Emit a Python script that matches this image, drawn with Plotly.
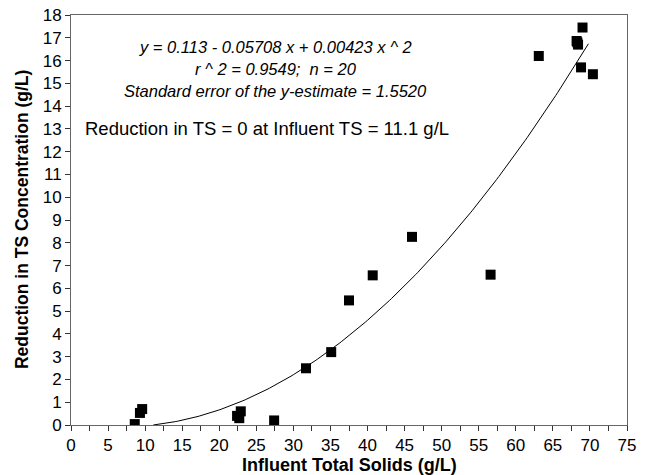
import numpy as np
import plotly.graph_objects as go

# Observed data
influent_ts = [8.6, 9.3, 9.6, 22.4, 22.7, 22.9, 27.4, 31.7, 35.1, 37.5,
               40.7, 46.0, 56.6, 63.1, 68.2, 68.3, 68.4, 68.8, 69.0, 70.4]
reduction_ts = [0.04, 0.53, 0.7, 0.4, 0.3, 0.6, 0.2, 2.49, 3.2, 5.47,
                6.57, 8.26, 6.6, 16.2, 16.86, 16.8, 16.7, 15.7, 17.45, 15.4]

# Fitted quadratic shown on the chart
coef_b0, coef_b1, coef_b2 = 0.113, -0.05708, 0.00423
fit_x_start, fit_x_end = 11.1, 69.8

fit_x = np.linspace(fit_x_start, fit_x_end, 200)
fit_y = coef_b0 + coef_b1 * fit_x + coef_b2 * fit_x ** 2

x_ticks = list(range(0, 80, 5))
y_ticks = list(range(0, 19, 1))

FONT = "Liberation Sans, Arial, sans-serif"

fig = go.Figure()
fig.add_trace(go.Scatter(x=fit_x, y=fit_y, mode="lines",
                         line=dict(color="black", width=1), hoverinfo="skip"))
fig.add_trace(go.Scatter(x=influent_ts, y=reduction_ts, mode="markers",
                         marker=dict(symbol="square", size=10, color="black")))

ann_font = dict(family=FONT, size=16.5, color="black")
fig.add_annotation(x=27.6, y=16.6, text="<i>y = 0.113 - 0.05708 x + 0.00423 x ^ 2</i>",
                   showarrow=False, font=ann_font, xanchor="center")
fig.add_annotation(x=27.6, y=15.63, text="<i>r ^ 2 = 0.9549;  n = 20</i>",
                   showarrow=False, font=ann_font, xanchor="center")
fig.add_annotation(x=27.6, y=14.66, text="<i>Standard error of the y-estimate = 1.5520</i>",
                   showarrow=False, font=ann_font, xanchor="center")
fig.add_annotation(x=1.6, y=13.0, text="Reduction in TS = 0 at Influent TS = 11.1 g/L",
                   showarrow=False, font=dict(family=FONT, size=18.5, color="black"),
                   xanchor="left")

# axis titles placed in paper coordinates
fig.add_annotation(xref="paper", yref="paper", x=0.5, y=-0.097, yanchor="middle",
                   text="<b>Influent Total Solids (g/L)</b>", showarrow=False,
                   font=dict(family=FONT, size=18, color="black"))
fig.add_annotation(xref="paper", yref="paper", x=-0.088, y=0.5, textangle=-90,
                   xanchor="center", yanchor="middle",
                   text="<b>Reduction in TS Concentration (g/L)</b>", showarrow=False,
                   font=dict(family=FONT, size=17.5, color="black"))

fig.update_layout(
    width=646, height=475,
    margin=dict(l=71, r=19, t=15, b=50),
    paper_bgcolor="white", plot_bgcolor="white",
    showlegend=False,
    font=dict(family=FONT, color="black"),
)
fig.update_xaxes(
    range=[0, 75], tickvals=x_ticks, ticks="outside", ticklen=5, tickcolor="#333",
    minor=dict(dtick=2.5, ticks="outside", ticklen=5, tickcolor="#333"),
    showline=True, linecolor="#666", linewidth=1, mirror=True,
    showgrid=False, zeroline=False, automargin=False, ticklabeloverflow="allow",
    tickfont=dict(family=FONT, size=17, color="black"),
)
fig.update_yaxes(
    range=[0, 18], tickvals=y_ticks, ticks="outside", ticklen=5, tickcolor="#333",
    showline=True, linecolor="#666", linewidth=1, mirror=True,
    showgrid=False, zeroline=False, automargin=False, ticklabeloverflow="allow",
    tickfont=dict(family=FONT, size=17, color="black"),
)

# remove the default 8px page margin so the figure fills the window exactly
fig.write_html("out.html", config={"displayModeBar": False},
               post_script="document.body.style.margin='0';")
